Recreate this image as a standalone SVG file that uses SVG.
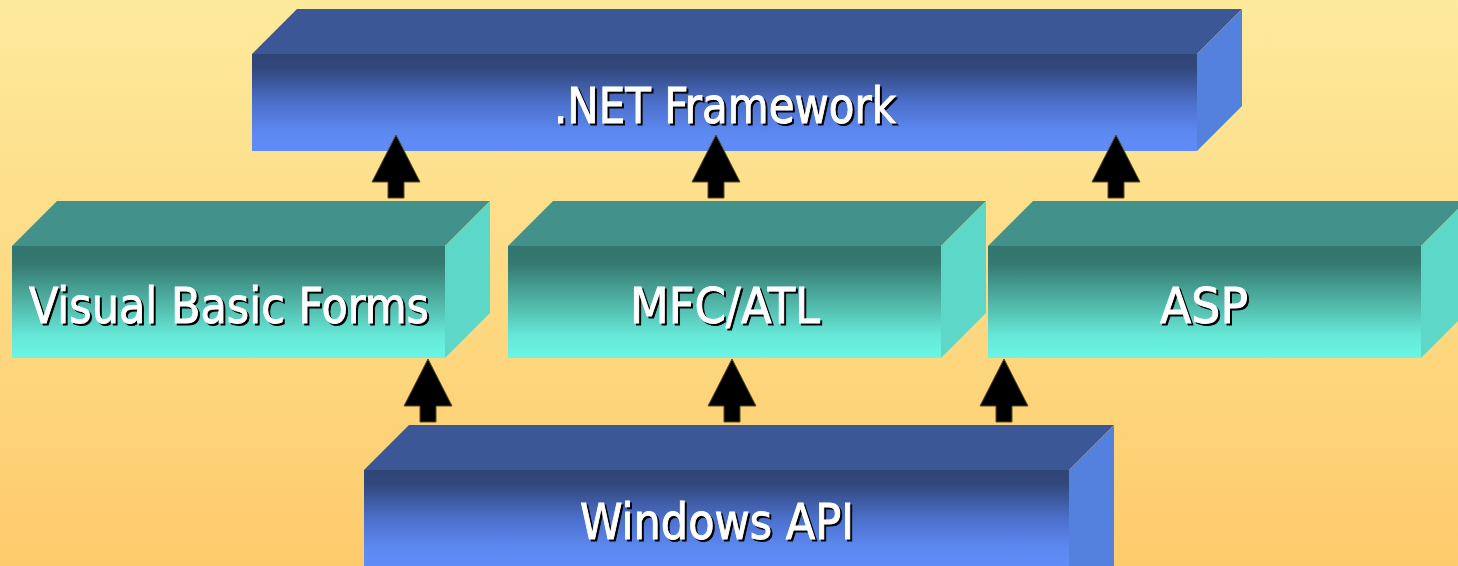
<svg xmlns="http://www.w3.org/2000/svg" width="1458" height="566" viewBox="0 0 1458 566">
<defs>
<linearGradient id="bg" x1="0" y1="0" x2="0" y2="1">
<stop offset="0" stop-color="#fdea9c"/>
<stop offset="1" stop-color="#fecb6c"/>
</linearGradient>
<linearGradient id="blueFront" x1="0" y1="0" x2="0" y2="1">
<stop offset="0" stop-color="#2f4577"/>
<stop offset="0.15" stop-color="#31487c"/>
<stop offset="0.5" stop-color="#4b6fcb"/>
<stop offset="0.8" stop-color="#5d88f0"/>
<stop offset="1" stop-color="#608cf8"/>
</linearGradient>
<linearGradient id="tealFront" x1="0" y1="0" x2="0" y2="1">
<stop offset="0" stop-color="#33766e"/>
<stop offset="0.15" stop-color="#347870"/>
<stop offset="0.5" stop-color="#50b4a6"/>
<stop offset="0.8" stop-color="#66e8d8"/>
<stop offset="1" stop-color="#6af6e4"/>
</linearGradient>
<style>
.bTop{fill:#3b5796}
.bSide{fill:#5480de}
.bFront{fill:url(#blueFront)}
.tTop{fill:#42918a}
.tSide{fill:#5dd8c8}
.tFront{fill:url(#tealFront)}
.lbl{font-family:"DejaVu Sans Condensed","DejaVu Sans",sans-serif;font-size:50px;text-anchor:middle;stroke-width:0.9px}
.sh{fill:#000;stroke:#000}
.fg{fill:#fff;stroke:#fff}
.arr{fill:#000;stroke:#5a4a20;stroke-width:1}
</style>
</defs>
<rect width="1458" height="566" fill="url(#bg)"/>

<g id="net">
<polygon class="bTop" points="252,54 297,9 1242,9 1197,54"/>
<polygon class="bSide" points="1197,54 1242,9 1242,106 1197,151"/>
<rect class="bFront" x="252" y="54" width="945" height="97"/>
<text class="lbl sh" x="727" y="125" textLength="342" lengthAdjust="spacingAndGlyphs">.NET Framework</text>
<text class="lbl fg" x="725" y="123" textLength="342" lengthAdjust="spacingAndGlyphs">.NET Framework</text>
</g>

<g id="vb">
<polygon class="tTop" points="12,246 57,201 490,201 445,246"/>
<polygon class="tSide" points="445,246 490,201 490,313 445,358"/>
<rect class="tFront" x="12" y="246" width="433" height="112"/>
<text class="lbl sh" x="231" y="325" textLength="400" lengthAdjust="spacingAndGlyphs">Visual Basic Forms</text>
<text class="lbl fg" x="229" y="323" textLength="400" lengthAdjust="spacingAndGlyphs">Visual Basic Forms</text>
</g>

<g id="mfc">
<polygon class="tTop" points="508,246 553,201 986,201 941,246"/>
<polygon class="tSide" points="941,246 986,201 986,313 941,358"/>
<rect class="tFront" x="508" y="246" width="433" height="112"/>
<text class="lbl sh" x="727" y="325" textLength="190" lengthAdjust="spacingAndGlyphs">MFC/ATL</text>
<text class="lbl fg" x="725" y="323" textLength="190" lengthAdjust="spacingAndGlyphs">MFC/ATL</text>
</g>

<g id="asp">
<polygon class="tTop" points="988,246 1033,201 1466,201 1421,246"/>
<polygon class="tSide" points="1421,246 1466,201 1466,313 1421,358"/>
<rect class="tFront" x="988" y="246" width="433" height="112"/>
<text class="lbl sh" x="1206" y="325" textLength="88" lengthAdjust="spacingAndGlyphs">ASP</text>
<text class="lbl fg" x="1204" y="323" textLength="88" lengthAdjust="spacingAndGlyphs">ASP</text>
</g>

<g id="winapi">
<polygon class="bTop" points="364,470 409,425 1114,425 1069,470"/>
<polygon class="bSide" points="1069,470 1114,425 1114,566 1069,566"/>
<rect class="bFront" x="364" y="470" width="705" height="96"/>
<text class="lbl sh" x="719" y="541" textLength="274" lengthAdjust="spacingAndGlyphs">Windows API</text>
<text class="lbl fg" x="717" y="539" textLength="274" lengthAdjust="spacingAndGlyphs">Windows API</text>
</g>

<g id="connectors">
<polygon class="arr" points="396,135 420,182 404,182 404,198 388,198 388,182 372,182"/>
<polygon class="arr" points="716,135 740,182 724,182 724,198 708,198 708,182 692,182"/>
<polygon class="arr" points="1116,135 1140,182 1124,182 1124,198 1108,198 1108,182 1092,182"/>
<polygon class="arr" points="428,359 452,406 436,406 436,422 420,422 420,406 404,406"/>
<polygon class="arr" points="732,359 756,406 740,406 740,422 724,422 724,406 708,406"/>
<polygon class="arr" points="1004,359 1028,406 1012,406 1012,422 996,422 996,406 980,406"/>
</g>
</svg>
